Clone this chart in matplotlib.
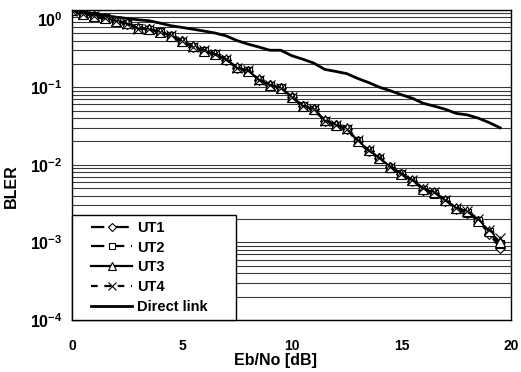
import matplotlib
matplotlib.use("Agg")
import matplotlib.pyplot as plt
import matplotlib.transforms as mtransforms
import numpy as np
from matplotlib.ticker import LogLocator, FixedLocator, FuncFormatter, NullFormatter
from matplotlib.legend_handler import HandlerLine2D

plt.rcParams["font.family"] = ["Liberation Sans", "DejaVu Sans"]
plt.rcParams["font.weight"] = "bold"
plt.rcParams["mathtext.fontset"] = "custom"
plt.rcParams["mathtext.rm"] = "Liberation Sans:bold"
plt.rcParams["mathtext.bf"] = "Liberation Sans:bold"

# Eb/No values in dB
ebno = [0.0, 0.5, 1.0, 1.5, 2.0, 2.5, 3.0, 3.5, 4.0, 4.5,
        5.0, 5.5, 6.0, 6.5, 7.0, 7.5, 8.0, 8.5, 9.0, 9.5,
        10.0, 10.5, 11.0, 11.5, 12.0, 12.5, 13.0, 13.5, 14.0, 14.5,
        15.0, 15.5, 16.0, 16.5, 17.0, 17.5, 18.0, 18.5, 19.0, 19.5]

ut1 = [0.97, 0.88, 0.82, 0.77, 0.72, 0.66, 0.58, 0.56, 0.51, 0.46,
       0.39, 0.33, 0.295, 0.265, 0.225, 0.178, 0.163, 0.125, 0.106, 0.098,
       0.074, 0.057, 0.052, 0.037, 0.033, 0.029, 0.020, 0.0152, 0.0121, 0.0093,
       0.0076, 0.0062, 0.0048, 0.0043, 0.0034, 0.0027, 0.0024, 0.0019, 0.0013, 0.00085]
ut2 = [0.97, 0.87, 0.82, 0.77, 0.71, 0.66, 0.58, 0.55, 0.51, 0.46,
       0.38, 0.33, 0.29, 0.265, 0.225, 0.176, 0.162, 0.124, 0.105, 0.097,
       0.073, 0.057, 0.051, 0.037, 0.032, 0.029, 0.020, 0.0150, 0.0120, 0.0092,
       0.0075, 0.0062, 0.0048, 0.0042, 0.0034, 0.0027, 0.0024, 0.0019, 0.00135, 0.00095]
ut3 = [0.98, 0.88, 0.83, 0.78, 0.72, 0.67, 0.58, 0.56, 0.52, 0.46,
       0.39, 0.34, 0.295, 0.27, 0.23, 0.18, 0.164, 0.126, 0.107, 0.099,
       0.075, 0.058, 0.052, 0.038, 0.033, 0.030, 0.020, 0.0154, 0.0122, 0.0094,
       0.0077, 0.0063, 0.0049, 0.0044, 0.0035, 0.0028, 0.0025, 0.0019, 0.0014, 0.0010]
ut4 = [0.97, 0.89, 0.82, 0.77, 0.72, 0.66, 0.57, 0.56, 0.51, 0.47,
       0.39, 0.33, 0.30, 0.265, 0.228, 0.178, 0.165, 0.125, 0.107, 0.098,
       0.074, 0.058, 0.053, 0.037, 0.033, 0.029, 0.021, 0.0153, 0.0123, 0.0095,
       0.0077, 0.0064, 0.0050, 0.0044, 0.0035, 0.0028, 0.0025, 0.0020, 0.00145, 0.00115]
direct = [1.0, 0.94, 0.88, 0.84, 0.80, 0.77, 0.74, 0.72, 0.67, 0.62,
          0.59, 0.56, 0.53, 0.50, 0.46, 0.40, 0.36, 0.33, 0.30, 0.30,
          0.255, 0.23, 0.205, 0.17, 0.16, 0.15, 0.13, 0.115, 0.10, 0.09,
          0.08, 0.072, 0.062, 0.057, 0.052, 0.046, 0.044, 0.040, 0.035, 0.030]

fig = plt.figure(figsize=(5.21, 3.72), dpi=100)
ax = fig.add_axes([0.139, 0.140, 0.842, 0.834])

mk = dict(color="black", markerfacecolor="white", markeredgecolor="black",
          markeredgewidth=0.8, linewidth=1.6)
ax.plot(ebno, ut1, linestyle=(0, (6, 2, 1, 2)), marker="D", markersize=5, label="UT1", **mk)
ax.plot(ebno, ut2, linestyle=(0, (6, 3)), marker="s", markersize=6, label="UT2", **mk)
ax.plot(ebno, ut3, linestyle="-", marker="^", markersize=6.5, label="UT3", **mk)
ax.plot(ebno, ut4, linestyle=(0, (3, 3)), marker="x", markersize=6.5, label="UT4", **mk)
ax.plot(ebno, direct, color="black", linewidth=2.0, label="Direct link")

ax.set_yscale("log")
ax.set_ylim(1e-4, 1.0)
ax.set_xlim(0, 20)
ax.set_xticks([0, 5, 10, 15, 20])

ax.yaxis.set_major_locator(FixedLocator([1e-4, 1e-3, 1e-2, 1e-1, 1e0]))
ax.yaxis.set_minor_locator(LogLocator(base=10, subs=np.arange(2, 10)))
ax.yaxis.set_minor_formatter(NullFormatter())
ax.yaxis.set_major_formatter(FuncFormatter(lambda v, p: r"$10^{%d}$" % int(round(np.log10(v)))))
ax.grid(True, axis="y", which="both", color="#3a3a3a", linewidth=0.8)
ax.tick_params(axis="both", which="both", length=0)
ax.tick_params(axis="y", labelsize=11.5, pad=7)
ax.tick_params(axis="x", labelsize=10, pad=14)

for s in ax.spines.values():
    s.set_color("black")
    s.set_linewidth(1.0)

ax.set_xlabel("Eb/No [dB]", fontsize=11.5, fontweight="bold")
ax.xaxis.set_label_coords(0.464, -0.108)
ax.set_ylabel("BLER", fontsize=11.5, fontweight="bold")
ax.yaxis.set_label_coords(-0.122, 0.43)

hmap = {h: HandlerLine2D(xpad=0.9) for h in ax.get_lines()}
leg = ax.legend(loc="lower left", bbox_to_anchor=(0.0, 0.0, 0.374, 0.338), mode="expand",
                fontsize=10.5, handlelength=3.7, frameon=True, fancybox=False,
                borderaxespad=0.0, labelspacing=0.4, borderpad=0.4,
                handletextpad=0.35, framealpha=1.0, markerscale=0.8,
                handler_map=hmap)
leg.get_frame().set_edgecolor("black")
leg.get_frame().set_linewidth(1.0)

# the top decade label sits a little lower, as in the original
fig.canvas.draw()
for lab in ax.get_yticklabels():
    if lab.get_text().endswith("{0}$"):
        lab.set_transform(lab.get_transform() + mtransforms.ScaledTranslation(0, -7 / 72, fig.dpi_scale_trans))

fig.savefig("out.png", dpi=100)
